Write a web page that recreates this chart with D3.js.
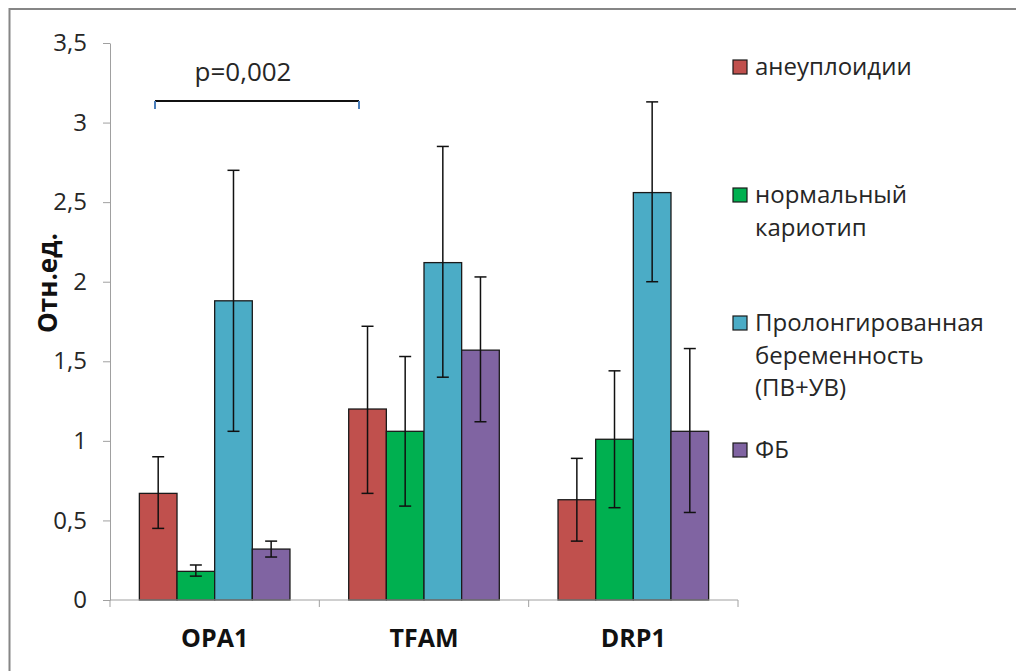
<!DOCTYPE html>
<html><head><meta charset="utf-8">
<script src="https://cdn.jsdelivr.net/npm/d3@7"></script>
<style>body{margin:0;background:#fff}svg{display:block}text{font-family:"Open Sans","DejaVu Sans",sans-serif}</style>
</head><body><svg id="c" width="1016" height="671"></svg>
<script>
const categories = ["OPA1","TFAM","DRP1"];
const seriesNames = ["анеуплоидии","нормальный кариотип","Пролонгированная беременность (ПВ+УВ)","ФБ"];
const legendLines = [["анеуплоидии"],["нормальный","кариотип"],["Пролонгированная","беременность","(ПВ+УВ)"],["ФБ"]];
const colors = ["#c0504d","#00b050","#4bacc6","#8064a2"];
const values = [[0.67,1.20,0.63],[0.18,1.06,1.01],[1.88,2.12,2.56],[0.32,1.57,1.06]];
const errLow = [[0.45,0.67,0.37],[0.15,0.59,0.58],[1.06,1.40,2.00],[0.27,1.12,0.55]];
const errHigh = [[0.90,1.72,0.89],[0.22,1.53,1.44],[2.70,2.85,3.13],[0.37,2.03,1.58]];
const yTicks = [0,0.5,1,1.5,2,2.5,3,3.5];
const yTickLabels = ["0","0,5","1","1,5","2","2,5","3","3,5"];
const pLabel = "p=0,002";

const svg = d3.select("#c");
svg.append("rect").attr("x",9.5).attr("y",9).attr("width",1100).attr("height",700)
  .attr("fill","none").attr("stroke","#868686").attr("stroke-width",2);

const x0 = 110, x1 = 738, yb = 600, yt = 43;
const x = d3.scaleBand().domain(categories).range([x0,x1]).paddingInner(0).paddingOuter(0);
const inner = d3.scaleBand().domain(d3.range(4)).range([0,x.bandwidth()]).paddingOuter(0.78).paddingInner(0);
const y = d3.scaleLinear().domain([0,3.5]).range([yb,yt]);

// y axis
const ya = svg.append("g").attr("transform",`translate(${x0},0)`)
  .call(d3.axisLeft(y).tickValues(yTicks).tickFormat((d,i)=>yTickLabels[i]).tickSize(7).tickSizeOuter(0).tickPadding(16));
ya.select(".domain").attr("stroke","#a0a0a0");
ya.selectAll(".tick line").attr("stroke","#a0a0a0");
ya.selectAll(".tick text").attr("font-size",24).attr("fill","#262626");

// bars
categories.forEach((c,ci)=>{
  const g = svg.append("g").attr("transform",`translate(${x(c)},0)`);
  for(let s=0;s<4;s++){
    g.append("rect").attr("x",inner(s)).attr("y",y(values[s][ci]))
      .attr("width",inner.bandwidth()).attr("height",y(0)-y(values[s][ci]))
      .attr("fill",colors[s]).attr("stroke","#1a1a1a").attr("stroke-width",1.3);
  }
});
// x axis
const xa = svg.append("g").attr("transform",`translate(0,${yb})`)
  .call(d3.axisBottom(x).tickSize(0).tickPadding(29));
xa.select(".domain").attr("stroke","#a0a0a0").attr("d",`M${x0},0H${x1}`);
xa.selectAll(".tick text").attr("font-size",25).attr("font-weight","bold").attr("fill","#111");
[x0,...categories.map(c=>x(c)+x.bandwidth())].forEach(px=>{
  svg.append("line").attr("x1",px).attr("x2",px).attr("y1",yb).attr("y2",yb+7).attr("stroke","#a0a0a0");
});
// error bars
categories.forEach((c,ci)=>{
  for(let s=0;s<4;s++){
    const cx = x(c)+inner(s)+inner.bandwidth()/2;
    const g = svg.append("g").attr("stroke","#111").attr("stroke-width",1.5);
    g.append("line").attr("x1",cx).attr("x2",cx).attr("y1",y(errLow[s][ci])).attr("y2",y(errHigh[s][ci]));
    [errLow[s][ci],errHigh[s][ci]].forEach(v=>g.append("line").attr("x1",cx-6).attr("x2",cx+6).attr("y1",y(v)).attr("y2",y(v)));
  }
});
// y label
svg.append("text").attr("transform","translate(57,283) rotate(-90)").attr("text-anchor","middle")
  .attr("font-size",26).attr("font-weight","bold").attr("fill","#111").text("Отн.ед.");
// p bracket
svg.append("line").attr("x1",155).attr("x2",359).attr("y1",101).attr("y2",101).attr("stroke","#111").attr("stroke-width",2);
[155,359].forEach(px=>svg.append("line").attr("x1",px).attr("x2",px).attr("y1",101).attr("y2",109).attr("stroke","#4a7ebb").attr("stroke-width",2));
svg.append("text").attr("x",243).attr("y",81).attr("text-anchor","middle").attr("font-size",26).attr("fill","#262626").text(pLabel);
// legend
const legY = [67,195,323,450];
legendLines.forEach((lines,i)=>{
  svg.append("rect").attr("x",733).attr("y",legY[i]-7).attr("width",14).attr("height",14)
    .attr("fill",colors[i]).attr("stroke","#1a1a1a").attr("stroke-width",1.2);
  const t = svg.append("text").attr("x",755).attr("y",legY[i]+8).attr("font-size",24).attr("fill","#262626");
  lines.forEach((l,j)=>t.append("tspan").attr("x",755).attr("dy",j?32.5:0).text(l));
});
</script></body></html>
